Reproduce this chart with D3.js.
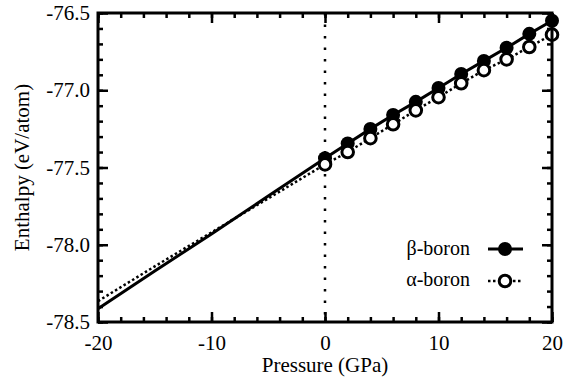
<!DOCTYPE html>
<html lang="en">
<head>
  <meta charset="UTF-8">
  <title>Enthalpy vs pressure</title>
  <script src="https://d3js.org/d3.v7.min.js"></script>
  <style>
  body{ margin:0; background:#fff; }
  svg text{ font-family:'Liberation Serif', 'Times New Roman', serif !important; }
  </style>
</head>
<body>
  <div class="container"></div>
  <script>
  // data
  var pressure   = [0, 2, 4, 6, 8, 10, 12, 14, 16, 18, 20];
  var betaH      = [-77.44, -77.345, -77.25, -77.16, -77.075, -76.985, -76.895, -76.81, -76.725, -76.635, -76.55];
  var alphaH     = [-77.48, -77.40, -77.31, -77.22, -77.13, -77.045, -76.955, -76.87, -76.80, -76.72, -76.64];
  // extrapolated lines at negative pressure (no markers)
  var negP       = [-20, -15, -10, -5, 0];
  var betaNeg    = [-78.415, -78.17, -77.93, -77.685, -77.44];
  var alphaNeg   = [-78.365, -78.14, -77.92, -77.70, -77.48];
  var xTicks     = [-20, -10, 0, 10, 20];
  var yTicks     = [-78.5, -78.0, -77.5, -77.0, -76.5];

  function serif(px) {
    return "font-family:'Liberation Serif','Times New Roman',serif !important;font-size:" + px + "px;fill:#000";
  }
  var w = 577, h = 382,
      margin = {top: 13, right: 25, bottom: 60, left: 98};
  var g_w = w - margin.left - margin.right;
  var g_h = h - margin.top - margin.bottom;

  var xScale = d3.scaleLinear().domain([-20, 20]).range([0, g_w]);
  var yScale = d3.scaleLinear().domain([-78.5, -76.5]).range([g_h, 0]);

  var svg = d3.select('.container').append('svg')
      .attr('width', w).attr('height', h);
  var g = svg.append('g')
      .attr('transform', 'translate(' + margin.left + ',' + margin.top + ')');

  // ticks: major inward 10px, minor 5px, on all four sides
  var xMinor = d3.range(-20, 20.01, 2), yMinor = d3.range(-78.5, -76.49, 0.1);
  function tickAxis(axis, ticks, len, tf) {
    return g.append('g').attr('transform', tf || null)
      .call(axis.tickValues(ticks).tickSize(len).tickFormat(''))
      .call(function(s){ s.select('.domain').remove(); s.selectAll('line').attr('stroke-width', 2.5); });
  }
  tickAxis(d3.axisBottom(xScale), xMinor, -5, 'translate(0,' + g_h + ')');
  tickAxis(d3.axisBottom(xScale), xTicks, -10, 'translate(0,' + g_h + ')');
  tickAxis(d3.axisTop(xScale), xMinor, -5);
  tickAxis(d3.axisTop(xScale), xTicks, -10);
  tickAxis(d3.axisLeft(yScale), yMinor, -5);
  tickAxis(d3.axisLeft(yScale), yTicks, -10);
  tickAxis(d3.axisRight(yScale), yMinor, -5, 'translate(' + g_w + ',0)');
  tickAxis(d3.axisRight(yScale), yTicks, -10, 'translate(' + g_w + ',0)');

  // tick labels
  var xl = g.append('g').attr('transform', 'translate(0,' + g_h + ')')
      .call(d3.axisBottom(xScale).tickValues(xTicks).tickSize(0).tickPadding(13));
  xl.select('.domain').remove();
  xl.attr('font-family', null);
  xl.selectAll('text').attr('style', serif(21)).text(function(d){ return String(d); });
  var yl = g.append('g')
      .call(d3.axisLeft(yScale).tickValues(yTicks).tickSize(0).tickPadding(8));
  yl.select('.domain').remove();
  yl.attr('font-family', null);
  yl.selectAll('text').attr('style', serif(21)).text(function(d){ return d.toFixed(1); });

  // vertical dotted line at 0
  g.append('line')
    .attr('x1', xScale(0)).attr('x2', xScale(0))
    .attr('y1', 0).attr('y2', g_h)
    .attr('stroke', '#000').attr('stroke-width', 2.5)
    .attr('stroke-dasharray', '2.5,9');

  var line = d3.line().x(function(d){ return xScale(d[0]); }).y(function(d){ return yScale(d[1]); });
  var betaAll = negP.map(function(p, i){ return [p, betaNeg[i]]; })
      .concat(pressure.slice(1).map(function(p, i){ return [p, betaH[i + 1]]; }));
  var alphaAll = negP.map(function(p, i){ return [p, alphaNeg[i]]; })
      .concat(pressure.slice(1).map(function(p, i){ return [p, alphaH[i + 1]]; }));

  g.append('path').attr('d', line(alphaAll))
    .attr('fill', 'none').attr('stroke', '#000').attr('stroke-width', 2.5)
    .attr('stroke-dasharray', '2.5,2.5');
  g.append('path').attr('d', line(betaAll))
    .attr('fill', 'none').attr('stroke', '#000').attr('stroke-width', 3);

  g.selectAll('.beta').data(pressure).enter().append('circle')
    .attr('cx', function(d){ return xScale(d); })
    .attr('cy', function(d, i){ return yScale(betaH[i]); })
    .attr('r', 7).attr('fill', '#000');
  g.selectAll('.alpha').data(pressure).enter().append('circle')
    .attr('cx', function(d){ return xScale(d); })
    .attr('cy', function(d, i){ return yScale(alphaH[i]); })
    .attr('r', 5.8).attr('fill', '#fff').attr('stroke', '#000').attr('stroke-width', 3);

  // frame
  g.append('rect').attr('width', g_w).attr('height', g_h)
    .attr('fill', 'none').attr('stroke', '#000').attr('stroke-width', 3);

  // legend
  var leg = svg.append('g');
  leg.append('text').attr('x', 470).attr('y', 255).attr('text-anchor', 'end')
    .attr('style', serif(20)).text('\u03b2-boron');
  leg.append('line').attr('x1', 488).attr('x2', 523).attr('y1', 249).attr('y2', 249)
    .attr('stroke', '#000').attr('stroke-width', 3);
  leg.append('circle').attr('cx', 505).attr('cy', 249).attr('r', 7).attr('fill', '#000');
  leg.append('text').attr('x', 470).attr('y', 286).attr('text-anchor', 'end')
    .attr('style', serif(20)).text('\u03b1-boron');
  leg.append('line').attr('x1', 488).attr('x2', 523).attr('y1', 281).attr('y2', 281)
    .attr('stroke', '#000').attr('stroke-width', 2.5).attr('stroke-dasharray', '2.5,2.5');
  leg.append('circle').attr('cx', 505).attr('cy', 281).attr('r', 5.8)
    .attr('fill', '#fff').attr('stroke', '#000').attr('stroke-width', 3);

  // axis titles
  svg.append('text').attr('x', margin.left + xScale(0)).attr('y', 372)
    .attr('text-anchor', 'middle').attr('style', serif(21))
    .text('Pressure (GPa)');
  svg.append('text').attr('transform', 'translate(29,' + (margin.top + g_h / 2) + ') rotate(-90)')
    .attr('text-anchor', 'middle').attr('style', serif(21))
    .text('Enthalpy (eV/atom)');
  </script>
</body>
</html>
